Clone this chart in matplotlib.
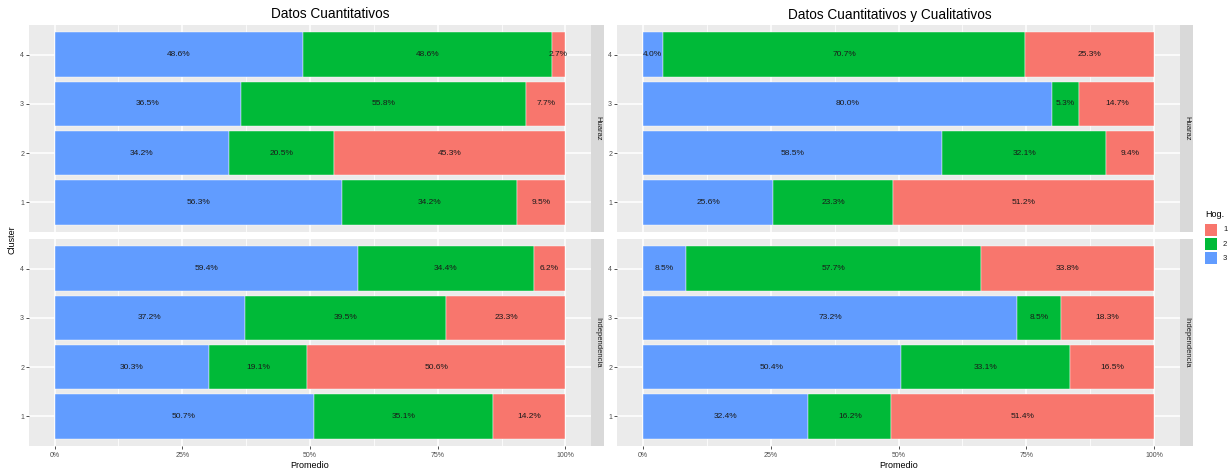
import matplotlib
matplotlib.use("Agg")
import matplotlib.pyplot as plt
from matplotlib.patches import Rectangle
import numpy as np

plt.rcParams['font.family'] = ['Liberation Sans', 'DejaVu Sans']

clusters = ["1", "2", "3", "4"]
hog_labels = ["1", "2", "3"]
hog_colors = {"1": "#F8766D", "2": "#00BA38", "3": "#619CFF"}
stack_order = ["3", "2", "1"]  # left to right

# values in % per cluster (1..4), per hogar group
quant_huaraz = {"3": [56.3, 34.2, 36.5, 48.6], "2": [34.2, 20.5, 55.8, 48.6], "1": [9.5, 45.3, 7.7, 2.7]}
quant_indep = {"3": [50.7, 30.3, 37.2, 59.4], "2": [35.1, 19.1, 39.5, 34.4], "1": [14.2, 50.6, 23.3, 6.2]}
mix_huaraz = {"3": [25.6, 58.5, 80.0, 4.0], "2": [23.3, 32.1, 5.3, 70.7], "1": [51.2, 9.4, 14.7, 25.3]}
mix_indep = {"3": [32.4, 50.4, 73.2, 8.5], "2": [16.2, 33.1, 8.5, 57.7], "1": [51.4, 16.5, 18.3, 33.8]}

titles = ["Datos Cuantitativos", "Datos Cuantitativos y Cualitativos"]
facets = ["Huaraz", "Independencia"]
panels = [[quant_huaraz, quant_indep], [mix_huaraz, mix_indep]]

W, H = 1232, 470
fig = plt.figure(figsize=(W / 100, H / 100), dpi=100)


def ax_px(x0, y0, x1, y1):
    return fig.add_axes([x0 / W, 1 - y1 / H, (x1 - x0) / W, (y1 - y0) / H])


panel_x = [(29, 591, 604), (617, 1180, 1193)]
facet_y = [(25, 232), (239, 446)]
title_x = [330, 890]
grid_col = "white"
bg = "#EBEBEB"
strip_bg = "#D9D9D9"

for p in range(2):
    x0, x1, xs = panel_x[p]
    fig.text(title_x[p] / W, 1 - 14.5 / H, titles[p], ha="center", va="center",
             fontsize=9.8, color="black")
    for f in range(2):
        y0, y1 = facet_y[f]
        ax = ax_px(x0, y0, x1, y1)
        ax.set_facecolor(bg)
        ax.set_xlim(-0.05, 1.05)
        ax.set_ylim(0.4, 4.6)
        for v in [0.125, 0.375, 0.625, 0.875]:
            ax.axvline(v, color=grid_col, lw=0.55, zorder=0)
        for v in [0, 0.25, 0.5, 0.75, 1.0]:
            ax.axvline(v, color=grid_col, lw=1.1, zorder=0)
        for v in [1, 2, 3, 4]:
            ax.axhline(v, color=grid_col, lw=1.1, zorder=0)
        data = panels[p][f]
        totals = np.sum([data[k] for k in stack_order], axis=0)
        left = np.zeros(4)
        ypos = np.arange(1, 5)
        for k in stack_order:
            vals = np.array(data[k])
            frac = vals / totals
            ax.barh(ypos, frac, left=left, height=0.9, color=hog_colors[k],
                    edgecolor="white", linewidth=0.3, zorder=2)
            for i in range(4):
                ax.text(left[i] + frac[i] / 2, ypos[i], f"{vals[i]:.1f}%",
                        ha="center", va="center", fontsize=6, color="#1A1A1A", zorder=3)
            left += frac
        for s in ax.spines.values():
            s.set_visible(False)
        ax.set_yticks(ypos)
        ax.set_yticklabels(clusters, fontsize=5, color="#4D4D4D")
        ax.tick_params(axis="y", length=2, width=0.6, color="#333333", pad=1.5)
        ax.set_xticks([0, 0.25, 0.5, 0.75, 1.0])
        if f == 1:
            ax.set_xticklabels(["0%", "25%", "50%", "75%", "100%"], fontsize=5, color="#4D4D4D")
            ax.tick_params(axis="x", length=2, width=0.6, color="#333333", pad=2)
            ax.set_xlabel("Promedio", fontsize=6.5, labelpad=2)
        else:
            ax.set_xticklabels([])
            ax.tick_params(axis="x", length=0)
        # strip
        sax = ax_px(x1, y0, xs, y1)
        sax.set_facecolor(strip_bg)
        sax.set_xticks([]); sax.set_yticks([])
        for s in sax.spines.values():
            s.set_visible(False)
        sax.text(0.5, 0.5, facets[f], rotation=-90, ha="center", va="center",
                 fontsize=5.5, color="#1A1A1A", transform=sax.transAxes)

fig.text(12 / W, 1 - 240 / H, "Cluster", rotation=90, ha="center", va="center", fontsize=6.5)

# legend
fig.text(1205 / W, 1 - 215 / H, "Hog.", ha="left", va="center", fontsize=6.5)
for i, k in enumerate(hog_labels):
    yk = 224 + i * 14
    fig.patches.append(Rectangle((1205 / W, 1 - (yk + 12) / H), 12 / W, 12 / H,
                                 transform=fig.transFigure, facecolor=hog_colors[k],
                                 edgecolor="none"))
    fig.text(1223 / W, 1 - (yk + 6) / H, k, ha="left", va="center", fontsize=5.5, color="#1A1A1A")

fig.savefig("out.png", dpi=100)
